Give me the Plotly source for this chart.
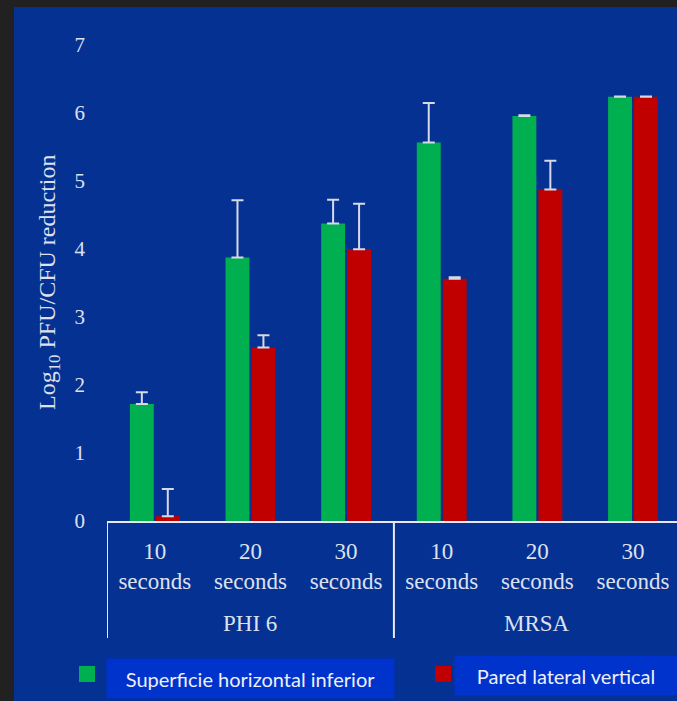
import plotly.graph_objects as go

# ---- data ----
categories = ["PHI 6 | 10 s", "PHI 6 | 20 s", "PHI 6 | 30 s",
              "MRSA | 10 s", "MRSA | 20 s", "MRSA | 30 s"]
tick_labels = ["10<br>seconds", "20<br>seconds", "30<br>seconds",
               "10<br>seconds", "20<br>seconds", "30<br>seconds"]
group_names = ["PHI 6", "MRSA"]
group_centers = [1, 4]
group_bounds = [-0.5, 2.5]
green_vals = [1.72, 3.87, 4.37, 5.56, 5.95, 6.23]
green_err = [0.17, 0.84, 0.35, 0.58, 0.01, 0.005]
red_vals = [0.07, 2.55, 3.99, 3.56, 4.87, 6.23]
red_err = [0.40, 0.18, 0.67, 0.02, 0.42, 0.005]
series_names = ["Superficie horizontal inferior", "Pared lateral vertical"]
y_ticks = [0, 1, 2, 3, 4, 5, 6, 7]
y_title = "Log<sub>10</sub> PFU/CFU reduction"

GREEN = "#00b050"
RED = "#c00000"
BG = "#053193"
TXT = "#dde1ef"
ERR = "#d6d9e6"
LINE = "#e8eaf2"
BORDER = "#212121"

W, H = 677, 701
L, R, T, B = 107, 0, 24, 180
pw, ph = W - L - R, H - T - B


def px_x(px):
    return (px - L) / pw


def px_y(py):
    return (H - B - py) / ph


fig = go.Figure()
for vals, errs, col, name in [(green_vals, green_err, GREEN, series_names[0]),
                              (red_vals, red_err, RED, series_names[1])]:
    fig.add_trace(go.Bar(
        x=categories, y=vals, name=name, marker_color=col,
        marker_line_width=0,
        error_y=dict(type="data", array=errs, arrayminus=[0] * len(errs),
                     symmetric=False, color=ERR, thickness=2, width=6),
    ))

fig.update_layout(
    width=W, height=H,
    margin=dict(l=L, r=R, t=T, b=B, autoexpand=False),
    paper_bgcolor=BG, plot_bgcolor=BG,
    barmode="group", bargap=0.457, bargroupgap=0.08,
    showlegend=False,
    font=dict(family="Liberation Serif", color=TXT, size=22),
)
fig.update_xaxes(
    type="category", range=[-0.5, 5.46],
    tickvals=categories, ticktext=tick_labels,
    showline=True, linecolor=LINE, linewidth=2,
    showgrid=False, zeroline=False, ticks="", ticklabelstandoff=8,
    tickfont=dict(family="Liberation Serif", size=23, color=TXT),
    automargin=False,
)
fig.update_yaxes(
    range=[0, 7.3], tickvals=y_ticks, showgrid=False, zeroline=False,
    showline=False, ticks="", ticklabelstandoff=21,
    tickfont=dict(family="Liberation Serif", size=21, color=TXT),
    automargin=False,
)

# category group dividers and group labels
for xb in group_bounds:
    fig.add_shape(type="line", xref="x", yref="paper",
                  x0=xb, x1=xb, y0=0, y1=px_y(638),
                  line=dict(color=LINE, width=2))
for name, xc in zip(group_names, group_centers):
    fig.add_annotation(text=name, xref="x", yref="paper", x=xc, y=px_y(623),
                       xanchor="center", yanchor="middle", showarrow=False,
                       font=dict(family="Liberation Serif", size=23, color=TXT))

# y-axis title
fig.add_annotation(
    text=y_title, textangle=-90, xref="paper", yref="paper",
    x=px_x(49), y=px_y(283), xanchor="center", yanchor="middle",
    showarrow=False, font=dict(family="Liberation Serif", size=24, color=TXT),
)

# dark frame around slide area
fig.add_shape(type="rect", xref="paper", yref="paper",
              x0=px_x(0), x1=px_x(W), y0=px_y(7), y1=px_y(0),
              fillcolor=BORDER, line_width=0, layer="above")
fig.add_shape(type="rect", xref="paper", yref="paper",
              x0=px_x(0), x1=px_x(14), y0=px_y(H), y1=px_y(0),
              fillcolor=BORDER, line_width=0, layer="above")

# legend: squares + boxed labels
for (sx0, sx1), col in [((79, 95), GREEN), ((435, 451), RED)]:
    fig.add_shape(type="rect", xref="paper", yref="paper",
                  x0=px_x(sx0), x1=px_x(sx1), y0=px_y(682), y1=px_y(666),
                  fillcolor=col, line_width=0)
for name, (bx0, bx1), (by0, by1) in [(series_names[0], (107, 394), (659, 698)),
                                     (series_names[1], (455, 677), (656, 695))]:
    fig.add_annotation(
        text=name, xref="paper", yref="paper",
        x=px_x((bx0 + bx1) / 2), y=px_y((by0 + by1) / 2),
        xanchor="center", yanchor="middle", showarrow=False,
        width=bx1 - bx0, height=by1 - by0, bgcolor="#0033cc", borderpad=0,
        font=dict(family="Lato", size=20, color="#eef0f8"),
    )

fig.write_html("out.html",
               config={"displayModeBar": False},
               post_script="document.body.style.margin='0px';"
                           "document.body.style.overflow='hidden';")
